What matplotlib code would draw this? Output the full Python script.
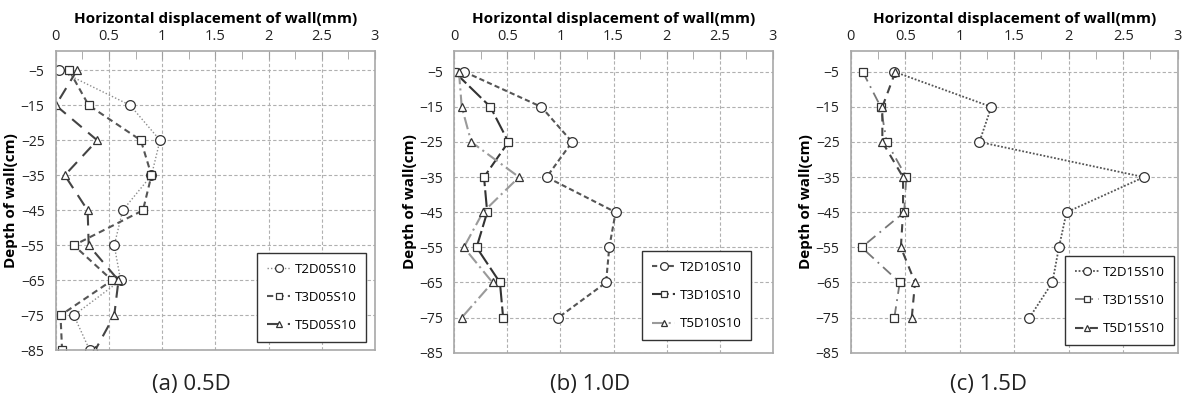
import matplotlib.pyplot as plt

plt.rcParams['font.family'] = ['Open Sans', 'DejaVu Sans']

depth = [-5, -15, -25, -35, -45, -55, -65, -75, -85]
depth_b = depth[:8]

# (a) 0.5D
a_t2 = [0.03, 0.70, 0.98, 0.90, 0.63, 0.55, 0.61, 0.17, 0.32]
a_t3 = [0.125, 0.31, 0.80, 0.90, 0.82, 0.17, 0.53, 0.045, 0.06]
a_t5 = [0.20, 0.0, 0.39, 0.085, 0.30, 0.31, 0.59, 0.55, 0.37]
# (b) 1.0D
b_t2 = [0.094, 0.82, 1.11, 0.87, 1.52, 1.46, 1.43, 0.98]
b_t3 = [0.0, 0.34, 0.51, 0.28, 0.31, 0.21, 0.43, 0.46]
b_t5 = [0.044, 0.07, 0.16, 0.61, 0.27, 0.09, 0.36, 0.07]
# (c) 1.5D
c_t2 = [0.40, 1.29, 1.18, 2.69, 1.98, 1.91, 1.85, 1.64]
c_t3 = [0.11, 0.275, 0.33, 0.51, 0.49, 0.10, 0.45, 0.40]
c_t5 = [0.41, 0.29, 0.29, 0.48, 0.48, 0.46, 0.59, 0.56]

yticks = [-5, -15, -25, -35, -45, -55, -65, -75, -85]
xticks = [0, 0.5, 1, 1.5, 2, 2.5, 3]
xtick_labels = ['0', '0.5', '1', '1.5', '2', '2.5', '3']

fig = plt.figure(figsize=(11.93, 4.01), dpi=100)

panels = [
    dict(rect=[0.0467, 0.1264, 0.2676, 0.7472], ytop=0.6, cap='(a) 0.5D', capx=0.160,
         series=[(depth, a_t2, 'T2D05S10', 'o', (0, (1, 1.5)), '#8c8c8c', 1.0),
                 (depth, a_t3, 'T3D05S10', 's', (0, (3, 2)), '#555555', 1.5),
                 (depth, a_t5, 'T5D05S10', '^', (0, (6, 4)), '#444444', 1.5)],
         leg=(0.63, 0.028)),
    dict(rect=[0.3808, 0.1204, 0.2669, 0.7532], ytop=1.0, cap='(b) 1.0D', capx=0.495,
         series=[(depth_b, b_t2, 'T2D10S10', 'o', (0, (2.5, 1.5)), '#555555', 1.5),
                 (depth_b, b_t3, 'T3D10S10', 's', (0, (8, 2)), '#333333', 1.5),
                 (depth_b, b_t5, 'T5D10S10', '^', (0, (6, 2, 1, 2)), '#9a9a9a', 1.5)],
         leg=(0.589, 0.042)),
    dict(rect=[0.7131, 0.1204, 0.2741, 0.7532], ytop=1.0, cap='(c) 1.5D', capx=0.829,
         series=[(depth_b, c_t2, 'T2D15S10', 'o', (0, (1, 1)), '#555555', 1.3),
                 (depth_b, c_t3, 'T3D15S10', 's', (0, (6, 3, 1, 3)), '#777777', 1.3),
                 (depth_b, c_t5, 'T5D15S10', '^', (0, (4, 3)), '#444444', 1.5)],
         leg=(0.655, 0.025)),
]

for p in panels:
    ax = fig.add_axes(p['rect'])
    for y, x, lab, mk, ls, col, lw in p['series']:
        ax.plot(x, y, linestyle=ls, color=col, linewidth=lw, marker=mk,
                markersize={'o': 7, 's': 6, '^': 5.5}[mk], markerfacecolor='white',
                markeredgecolor='#333333', markeredgewidth=0.9, label=lab)
    ax.set_xlim(0, 3)
    ax.set_ylim(-85, p['ytop'])
    ax.xaxis.tick_top()
    ax.xaxis.set_label_position('top')
    ax.set_xticks(xticks)
    ax.set_xticklabels(xtick_labels)
    ax.set_xticks([0.25, 0.75, 1.25, 1.75, 2.25, 2.75], minor=True)
    ax.set_yticks(yticks)
    ax.tick_params(axis='x', which='major', direction='in', length=6, color='#a0a0a0',
                   labelsize=10.5, pad=5, labelcolor='#222222')
    ax.tick_params(axis='x', which='minor', direction='in', length=6, color='#a0a0a0')
    ax.tick_params(axis='y', length=0, labelsize=10, pad=8, labelcolor='#222222')
    ax.grid(True, which='major', linestyle=(0, (3, 2)), color='#b0b0b0', linewidth=0.8)
    for s in ['top', 'left', 'bottom', 'right']:
        ax.spines[s].set_color('#a8a8a8')
        ax.spines[s].set_linewidth(1.2)
    ax.set_xlabel('Horizontal displacement of wall(mm)', fontsize=11, fontweight='bold',
                  labelpad=4)
    ax.set_ylabel('Depth of wall(cm)', fontsize=11, fontweight='bold', labelpad=2)
    leg = ax.legend(loc='lower left', bbox_to_anchor=p['leg'], fontsize=9.5,
                    fancybox=False, edgecolor='#333333', framealpha=1, markerscale=0.8,
                    handlelength=1.8, labelspacing=1.15, borderpad=0.75, handletextpad=0.3,
                    borderaxespad=0)
    leg.get_frame().set_linewidth(1.0)
    fig.text(p['capx'], 0.04, p['cap'], ha='center', va='center', fontsize=16,
             color='#222222')

fig.savefig('out.png', dpi=100)
